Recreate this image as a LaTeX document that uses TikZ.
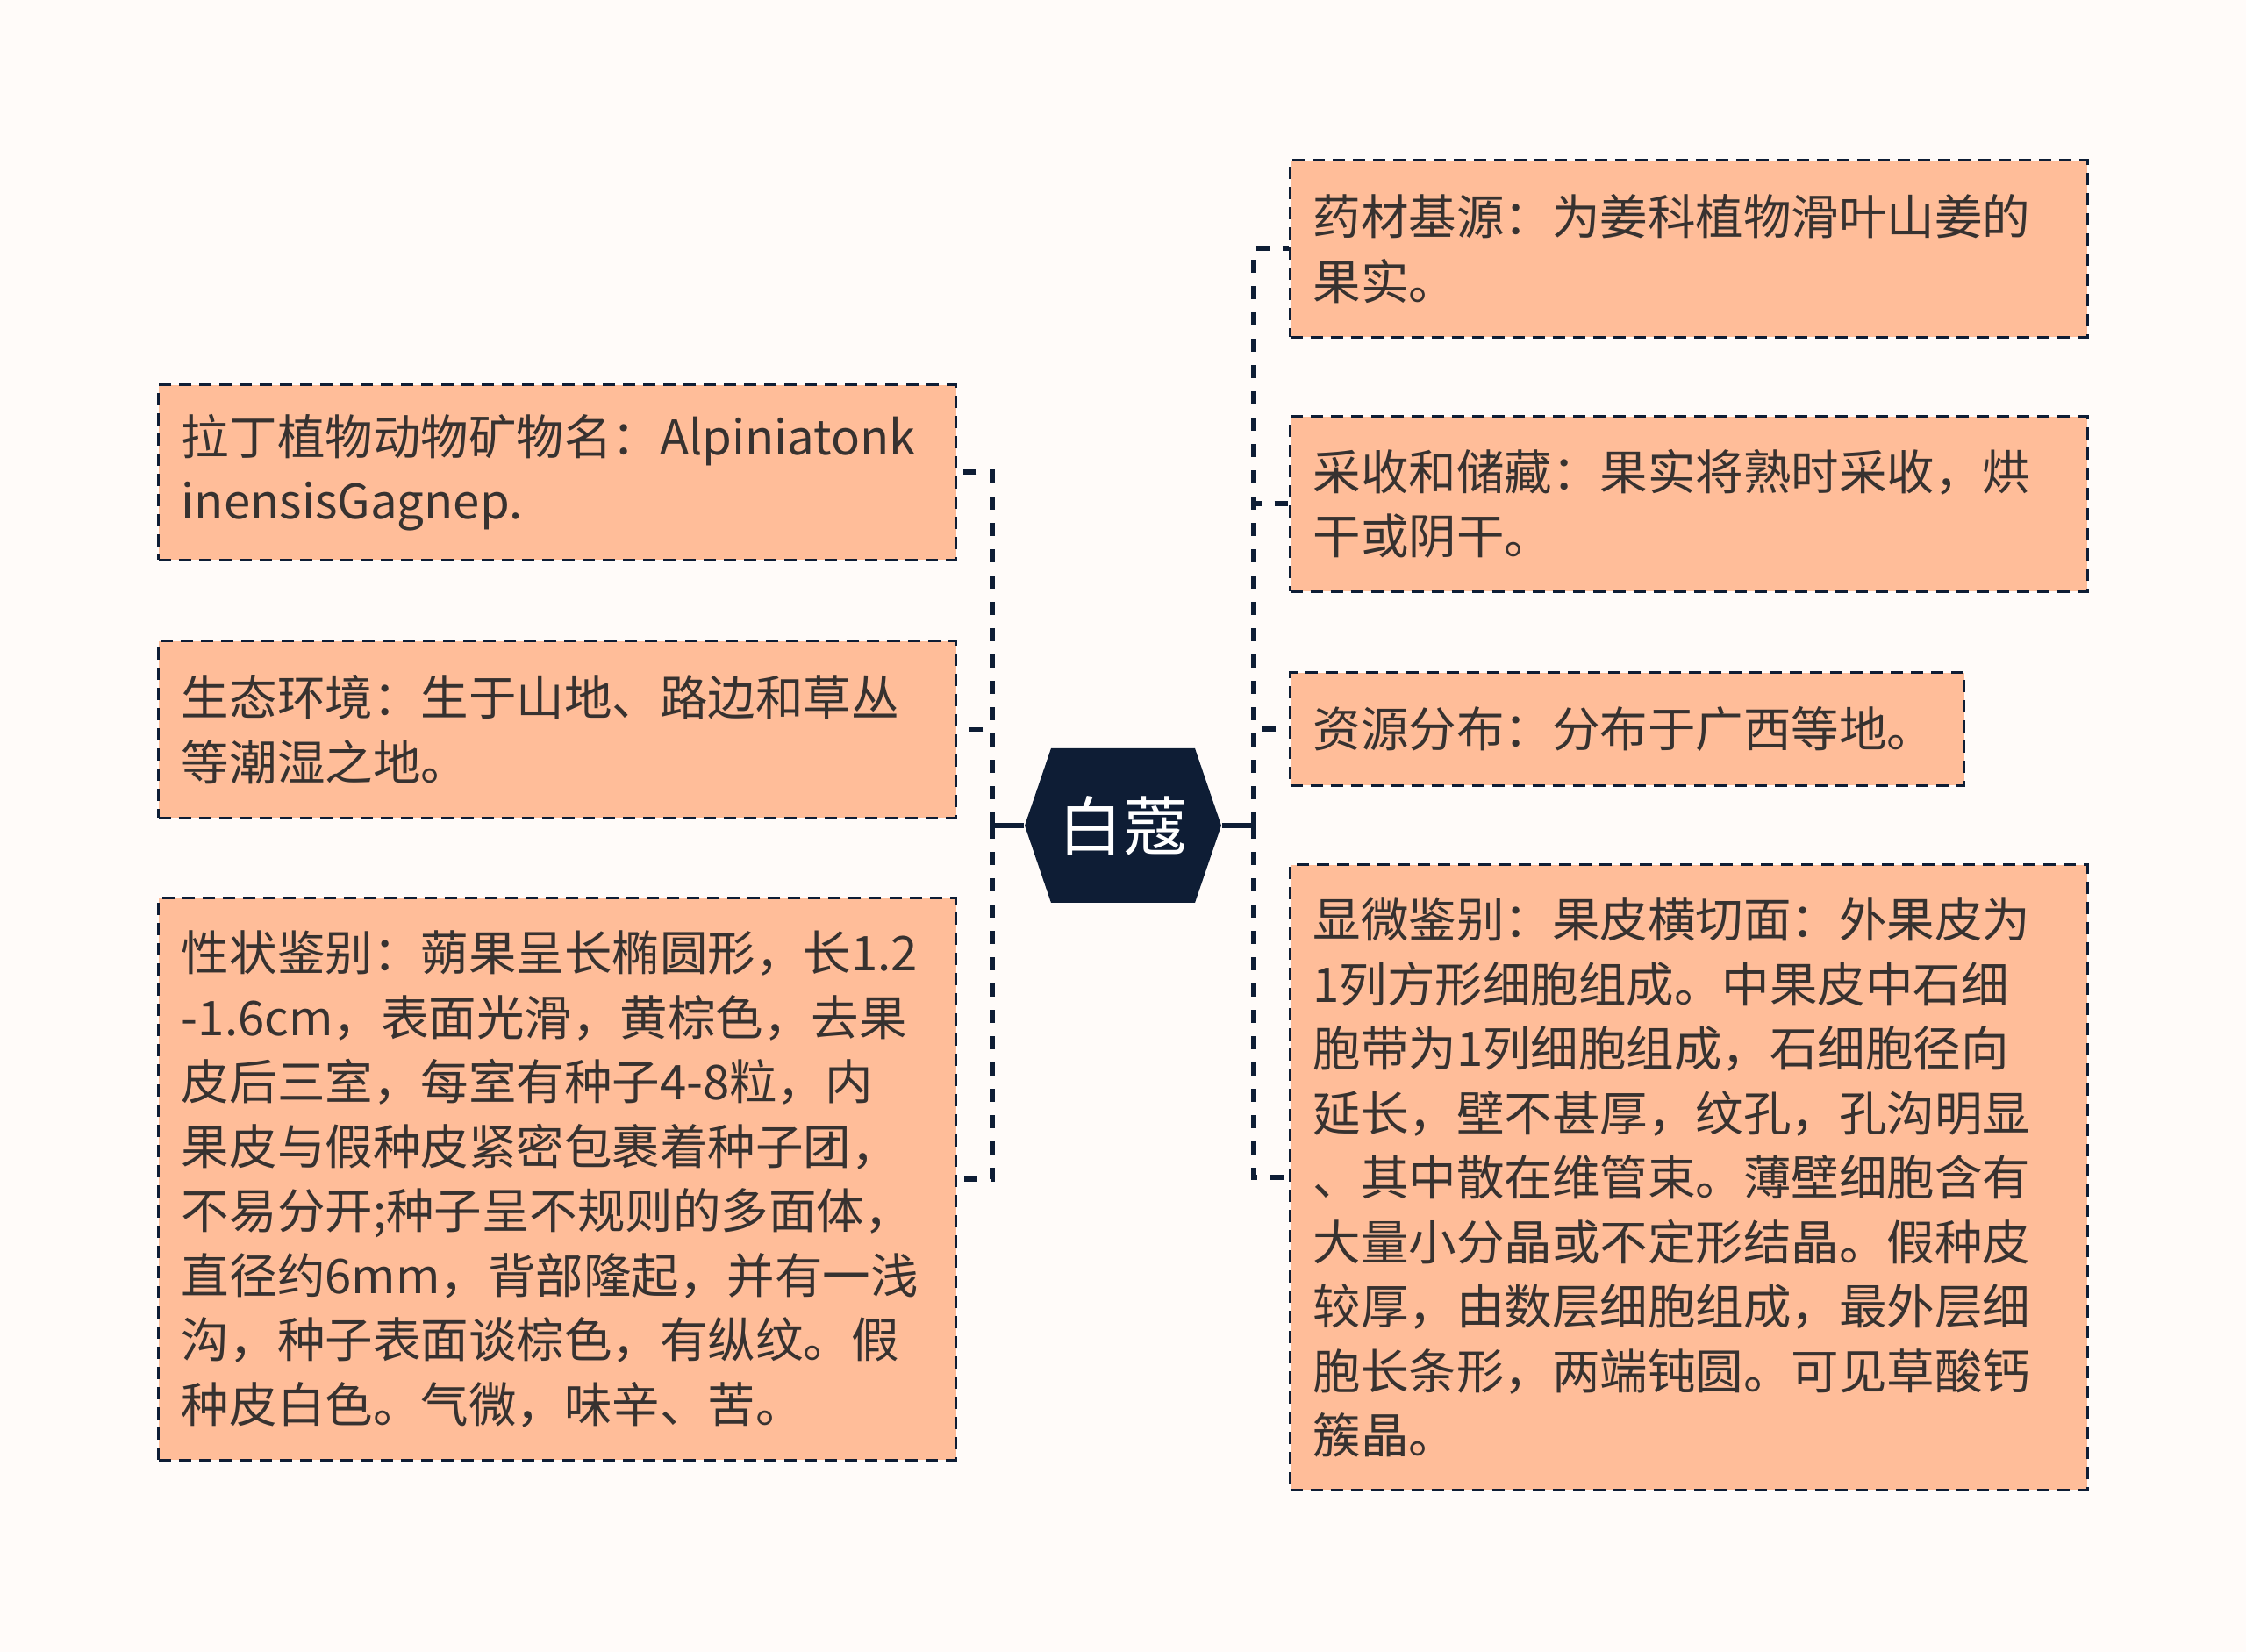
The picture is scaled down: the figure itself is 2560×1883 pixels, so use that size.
\documentclass[tikz,border=0pt]{standalone}
\usepackage{fontspec}
\setmainfont{Noto Sans CJK SC}
\usetikzlibrary{positioning}
\usetikzlibrary{calc}
\definecolor{pagebg}{RGB}{255,251,249}
\definecolor{peach}{RGB}{255,189,153}
\definecolor{navy}{RGB}{14,29,53}
\definecolor{ink}{RGB}{55,50,48}
\tikzset{
  infobox/.style={draw=navy, fill=peach, line width=0.85pt,
    dash pattern=on 0.14cm off 0.09cm, text=ink, align=left,
    inner xsep=0.26cm, inner ysep=0pt, text width=8.56cm,
    minimum width=9.08cm,
    font=\fontsize{15.5pt}{20.9pt}\selectfont},
  rootnode/.style={text=white, minimum width=2.24cm, minimum height=1.76cm,
    inner sep=0pt, font=\fontsize{20.9pt}{24pt}\selectfont},
  stub/.style={draw=navy, line width=1.7pt},
  branch/.style={draw=navy, line width=1.7pt, dash pattern=on 0.15cm off 0.15cm}
}
\begin{document}
\begin{tikzpicture}[x=0.01cm, y=-0.01cm]
    \fill[pagebg] (0,0) rectangle (2560,1883);
    \useasboundingbox (0,0) rectangle (2560,1883);

    % centre hexagon
    \coordinate (c) at (1280,941);
    \fill[navy] ($(c)+(-82,-88)$) -- ($(c)+(82,-88)$) -- ($(c)+(112,0)$)
        -- ($(c)+(82,88)$) -- ($(c)+(-82,88)$) -- ($(c)+(-112,0)$) -- cycle;
    \node[rootnode] (root) at (c) {白蔻};

    % left side
    \node[infobox, anchor=east, minimum height=1.99cm] (lat) at (1091,538.5)
        {拉丁植物动物矿物名：Alpiniatonk\\inensisGagnep.};
    \node[infobox, anchor=east, minimum height=2.01cm] (env) at (1091,831.5)
        {生态环境：生于山地、路边和草丛\\等潮湿之地。};
    \node[infobox, anchor=east, minimum height=6.40cm] (trait) at (1091,1344)
        {性状鉴别：蒴果呈长椭圆形，长1.2\\-1.6cm，表面光滑，黄棕色，去果\\皮后三室，每室有种子4-8粒，内\\果皮与假种皮紧密包裹着种子团，\\不易分开;种子呈不规则的多面体，\\直径约6mm，背部隆起，并有一浅\\沟，种子表面谈棕色，有纵纹。假\\种皮白色。气微，味辛、苦。};

    % right side
    \node[infobox, anchor=west, minimum height=2.01cm] (origin) at (1469,283.5)
        {药材基源：为姜科植物滑叶山姜的\\果实。};
    \node[infobox, anchor=west, minimum height=1.99cm] (harvest) at (1469,574.5)
        {采收和储藏：果实将熟时采收，烘\\干或阴干。};
    \node[infobox, anchor=west, minimum height=1.28cm, minimum width=7.68cm,
        text width=7.16cm] (spread) at (1469,831)
        {资源分布：分布于广西等地。};
    \node[infobox, anchor=west, minimum height=7.12cm] (micro) at (1469,1342)
        {显微鉴别：果皮横切面：外果皮为\\1列方形细胞组成。中果皮中石细\\胞带为1列细胞组成，石细胞径向\\延长，壁不甚厚，纹孔，孔沟明显\\、其中散在维管束。薄壁细胞含有\\大量小分晶或不定形结晶。假种皮\\较厚，由数层细胞组成，最外层细\\胞长条形，两端钝圆。可见草酸钙\\簇晶。};

    % connectors
    \coordinate (lj) at (1131,941);
    \coordinate (rj) at (1429,941);
    \draw[stub] (root.west) -- (lj);
    \draw[stub] (root.east) -- (rj);
    \foreach \n in {lat,env,trait} {
        \draw[branch] (lj) |- (\n.east);
    }
    \foreach \n in {origin,harvest,spread,micro} {
        \draw[branch] (rj) |- (\n.west);
    }
\end{tikzpicture}
\end{document}
